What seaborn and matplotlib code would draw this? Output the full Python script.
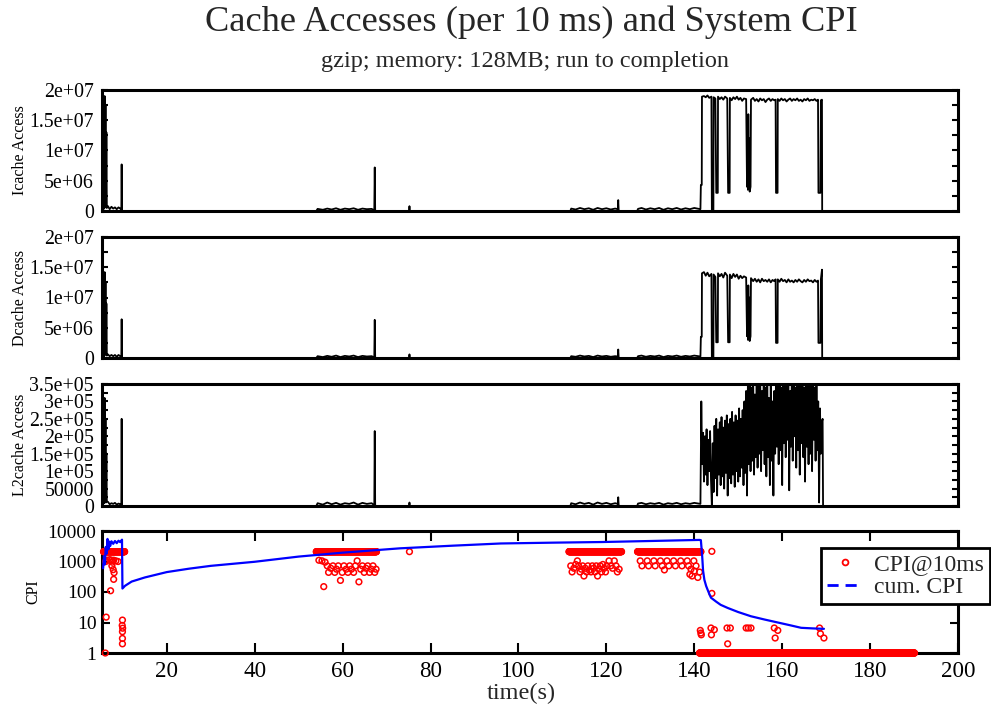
import numpy as np
import pandas as pd
import matplotlib
matplotlib.use("Agg")
import matplotlib.pyplot as plt
from matplotlib.lines import Line2D
from matplotlib.ticker import LogLocator, NullFormatter, MultipleLocator
import seaborn as sns

# ---------------------------------------------------------------- data
# Sample times (s) shared by the three cache counters before the burst phase
t_pre = [5.25, 5.35, 5.45, 5.55, 5.65, 5.75, 5.85, 5.95, 6.05, 6.15, 6.25, 6.35,
         6.6, 7.0, 7.4, 7.8, 8.2, 8.6, 9.0, 9.4, 9.65, 9.72, 9.80, 10.0,
         54.0, 54.3, 55.5, 56.5, 57.5, 58.5, 59.5, 60.5, 61.5, 62.5, 63.5, 64.5, 65.5, 66.6,
         67.2, 67.3, 67.4, 67.6, 75.1, 75.2, 75.3,
         111.8, 112.0, 113, 114, 115, 116, 117, 118, 119, 120, 121, 122, 122.6, 122.7, 122.8, 123.0,
         127.0, 127.2, 128, 129, 130, 131, 132, 133, 134, 135, 136, 137, 138, 139, 140, 141.0, 141.4]

# Icache / Dcache accesses in millions, L2 accesses in thousands
icache_pre = [19.5, 0.5, 19.3, 1.2, 18.8, 0.4, 19.0, 2.5, 17.5, 0.6, 13.0, 0.5,
              0.8, 0.3, 0.7, 0.4, 0.6, 0.3, 0.6, 0.4, 0.2, 7.7, 0.1, 0.0,
              0.0, 0.35, 0.2, 0.4, 0.25, 0.45, 0.2, 0.4, 0.3, 0.45, 0.2, 0.4, 0.3, 0.35,
              0.1, 7.2, 0.1, 0.0, 0.0, 0.8, 0.0,
              0.0, 0.4, 0.25, 0.5, 0.3, 0.45, 0.2, 0.5, 0.3, 0.45, 0.25, 0.4, 0.3, 1.8, 0.1, 0.0,
              0.0, 0.35, 0.5, 0.25, 0.45, 0.3, 0.5, 0.2, 0.45, 0.3, 0.5, 0.25, 0.45, 0.3, 0.5, 0.35, 0.3]
dcache_pre = [14.5, 0.4, 14.0, 1.0, 13.5, 0.3, 14.2, 2.0, 12.5, 0.5, 9.0, 0.4,
              0.6, 0.3, 0.5, 0.3, 0.5, 0.2, 0.5, 0.3, 0.2, 6.4, 0.1, 0.0,
              0.0, 0.3, 0.15, 0.35, 0.2, 0.4, 0.15, 0.35, 0.25, 0.4, 0.15, 0.35, 0.25, 0.3,
              0.1, 6.3, 0.1, 0.0, 0.0, 0.6, 0.0,
              0.0, 0.3, 0.2, 0.4, 0.25, 0.35, 0.15, 0.4, 0.25, 0.35, 0.2, 0.3, 0.25, 1.4, 0.1, 0.0,
              0.0, 0.3, 0.4, 0.2, 0.35, 0.25, 0.4, 0.15, 0.35, 0.25, 0.4, 0.2, 0.35, 0.25, 0.4, 0.3, 0.25]
l2_pre = [330, 10, 320, 15, 300, 8, 310, 20, 250, 10, 150, 12,
          12, 5, 8, 6, 9, 4, 7, 5, 3, 250, 2, 0,
          0, 8, 4, 10, 5, 9, 4, 8, 6, 10, 4, 9, 6, 8,
          2, 215, 2, 0, 0, 10, 0,
          0, 8, 5, 10, 6, 9, 4, 10, 6, 9, 5, 8, 6, 25, 2, 0,
          0, 7, 9, 5, 8, 6, 9, 4, 8, 6, 9, 5, 8, 6, 9, 7, 6]

# Burst phase (Icache / Dcache share these sample times)
t_burst = [141.5, 141.7, 141.75, 142.2, 142.6, 143.0, 143.4, 143.9,
           144.0, 144.35, 144.4, 144.8,
           145.0, 145.35, 145.4, 145.8, 146.2, 146.6, 147.0, 147.5,
           147.7, 148.05, 148.1, 148.5, 148.9, 149.3, 149.7, 150.1, 150.5, 150.9, 151.3, 151.8,
           152.0, 152.1, 152.2, 152.3, 152.4, 152.5, 152.6, 152.8,
           152.9, 153.4, 153.8, 154.2, 154.6, 155.0, 155.4, 155.8, 156.2, 156.6, 157.0, 157.4, 157.8, 158.2, 158.5,
           158.6, 158.95, 159.0, 159.4, 159.8, 160.2, 160.6, 161.0, 161.4, 161.8, 162.2, 162.6, 163.0,
           163.4, 163.8, 164.2, 164.6, 165.0, 165.4, 165.8, 166.2, 166.6, 167.0, 167.4, 167.8, 168.15,
           168.25, 168.7, 168.8, 169.05, 169.1, 190.0]
icache_burst = [4.3, 4.3, 18.9, 19.0, 18.8, 19.1, 18.7, 18.9,
                0.0, 0.0, 18.8, 18.6,
                3.0, 3.0, 18.9, 18.5, 18.8, 18.4, 18.9, 18.6,
                3.0, 3.0, 18.7, 18.3, 18.8, 18.5, 18.9, 18.4, 18.7, 18.2, 18.6, 18.5,
                4.0, 15.0, 3.5, 16.0, 4.6, 12.0, 3.2, 4.0,
                18.4, 18.7, 18.2, 18.5, 18.1, 18.6, 18.3, 18.5, 18.0, 18.4, 18.6, 18.2, 18.5, 18.3, 18.4,
                3.0, 3.0, 18.5, 18.2, 18.6, 18.3, 18.5, 18.1, 18.4, 18.6, 18.2, 18.5, 18.3,
                18.6, 18.2, 18.4, 18.1, 18.5, 18.3, 18.6, 18.2, 18.4, 18.3, 18.5, 18.2, 18.4,
                3.0, 3.0, 18.3, 18.4, 0.0, 0.0]
dcache_burst = [3.5, 3.5, 14.0, 14.2, 13.6, 14.1, 13.5, 13.9,
                0.0, 0.0, 13.8, 13.4,
                2.6, 2.6, 14.0, 13.5, 13.9, 13.3, 14.1, 13.6,
                2.6, 2.6, 13.8, 13.2, 13.9, 13.4, 13.8, 13.1, 13.6, 13.2, 13.5, 13.3,
                3.6, 11.0, 3.0, 12.0, 3.6, 10.0, 2.8, 3.6,
                13.2, 12.7, 13.1, 12.6, 13.0, 12.5, 13.1, 12.7, 12.9, 12.6, 13.0, 12.5, 12.9, 12.7, 13.0,
                2.5, 2.5, 13.0, 12.6, 13.1, 12.7, 12.9, 12.5, 13.0, 12.6, 12.8, 12.5, 12.9,
                12.6, 13.0, 12.7, 12.5, 12.9, 12.6, 13.0, 12.7, 12.8, 12.5, 12.9, 12.6, 12.8,
                2.5, 2.5, 13.0, 14.6, 0.0, 0.0]

# L2 accesses during the burst, one reading every 0.2 s from 141.6 s
l2_burst_start, l2_burst_step = 141.6, 0.2
l2_burst = [300, 120, 210, 70, 200, 90, 220, 60, 190, 100,
            215, 75, 0, 180, 40, 230, 80, 250, 30, 220,
            90, 240, 60, 255, 85, 225, 50, 245, 95, 260,
            30, 235, 80, 250, 65, 270, 90, 240, 55, 260,
            100, 245, 70, 280, 85, 250, 110, 275, 60, 300,
            95, 330, 30, 360, 120, 380, 100, 340, 130, 370,
            90, 320, 140, 390, 110, 350, 150, 380, 100, 330,
            160, 370, 120, 340, 85, 360, 140, 310, 60, 350,
            130, 300, 30, 330, 150, 380, 170, 350, 120, 390,
            160, 340, 60, 370, 180, 400, 140, 350, 190, 380,
            45, 330, 170, 390, 130, 360, 200, 340, 110, 380,
            160, 350, 90, 370, 180, 395, 140, 340, 70, 380,
            170, 360, 120, 390, 150, 350, 100, 370, 190, 340,
            130, 380, 160, 300, 10, 280, 150, 240, 250]
l2_tail_t = [169.3, 190.0]
l2_tail = [0, 0]

# CPI per 10 ms sample: dense plateaus, the idle tail, and scattered readings
cpi_band_spans = [(5.6, 10.4), (54.0, 67.7), (111.5, 123.5), (127.1, 141.5)]
cpi_band_level = 2100
cpi_idle_span = (141.2, 190.1)
cpi_idle_level = 1
cpi_pts_t = [6.0, 6.2, 7.2, 6.1, 6.4, 7.0, 7.4, 7.9, 8.4, 8.9, 7.5, 7.8, 8.0, 7.9, 7.6,
             9.9, 9.85, 9.95, 9.9, 9.9, 9.9,
             54.6, 55.3, 55.7, 56.0, 56.5, 56.8, 57.3, 57.8, 58.2, 58.6, 59.0, 59.5, 59.9, 60.3,
             60.8, 61.2, 61.6, 62.0, 62.5, 62.9, 63.3, 63.7, 64.1, 64.5, 64.9, 65.3, 65.7, 66.1,
             66.5, 66.9, 67.3, 67.6,
             75.2,
             111.9, 112.2, 112.6, 113.0, 113.4, 113.7, 114.0, 114.3, 114.6, 114.9, 115.2, 115.5,
             115.8, 116.1, 116.5, 116.8, 117.1, 117.4, 117.7, 118.0, 118.3, 118.6, 118.9, 119.2,
             119.5, 119.8, 120.1, 120.6, 121.0, 121.4, 121.8, 122.2, 122.5, 122.9,
             127.7, 129.3, 130.8, 132.3, 133.8, 135.3, 136.9, 138.4, 139.9,
             128.1, 129.6, 131.1, 132.7, 134.2, 135.7, 137.2, 138.7,
             133.2, 139.25, 139.0, 139.5, 140.0, 140.4, 140.8, 141.2,
             144.0, 144.0,
             141.37, 141.5, 141.6, 143.8, 143.9, 144.56, 147.45, 148.2, 147.6, 151.8, 152.3,
             152.9, 158.2, 159.0, 158.4, 168.5, 168.7, 169.5]
cpi_pts_v = [1, 15, 110, 1000, 1100, 1150, 1100, 1100, 1050, 1000, 720, 540, 430, 260, 950,
             12, 8, 6.5, 5, 3, 2,
             1100, 1050, 150, 950, 720, 440, 600, 720, 440, 560, 720, 240, 440, 720,
             560, 440, 720, 560, 440, 720, 1050, 215, 560, 720, 440, 600, 720, 440,
             560, 720, 440, 560,
             2100,
             720, 455, 600, 800, 1050, 720, 455, 560, 720, 335, 600, 455,
             720, 520, 455, 720, 600, 455, 720, 335, 560, 720, 455, 800,
             600, 455, 720, 1050, 720, 600, 1050, 720, 455, 560,
             1050, 1050, 1050, 1050, 1050, 1050, 1050, 1050, 1050,
             720, 720, 720, 720, 720, 720, 720, 720,
             530, 560, 380, 335, 485, 720, 300, 450,
             2150, 90,
             5.5, 4.5, 3.95, 6.6, 3.95, 5.8, 6.6, 6.6, 2.0, 6.6, 6.6,
             6.6, 6.6, 5.5, 3.1, 6.6, 4.3, 3.1]

# Cumulative CPI
cum_t = [5.5, 5.7, 5.9, 6.1, 6.3, 6.5, 6.7, 6.9, 7.1, 7.4, 7.8, 8.2, 8.6, 9.0, 9.4, 9.8, 9.9,
         10.5, 12, 15, 20, 25, 30, 40, 50, 60, 73, 85, 96, 108, 119, 130, 141.2,
         141.5, 141.8, 142.0, 142.3, 142.7, 143.3, 143.8, 145, 146, 147.6, 150, 152.9,
         156, 159, 162, 164.3, 167, 169.5]
cum_v = [600, 1500, 800, 3000, 1800, 5500, 2500, 4500, 3200, 4600, 3800, 4700, 4000, 4800, 4300, 5200, 130,
         160, 220, 300, 450, 580, 720, 980, 1450, 1950, 2700, 3300, 3900, 4150, 4350, 4700, 5100,
         5000, 1500, 500, 250, 157, 95, 65, 48, 38, 30, 22, 16,
         12.5, 10, 8, 6.7, 6.4, 6.2]

# Axis ticks and labels
acc_ticks = [0, 5e6, 1e7, 1.5e7, 2e7]
acc_labels = ["0", "5e+06", "1e+07", "1.5e+07", "2e+07"]
l2_ticks = [0, 5e4, 1e5, 1.5e5, 2e5, 2.5e5, 3e5, 3.5e5]
l2_labels = ["0", "50000", "1e+05", "1.5e+05", "2e+05", "2.5e+05", "3e+05", "3.5e+05"]
cpi_ticks = [1, 10, 100, 1000, 10000]
cpi_labels = ["1", "10", "100", "1000", "10000"]
time_ticks = [20, 40, 60, 80, 100, 120, 140, 160, 180, 200]

# ---------------------------------------------------------------- tables
icache = pd.DataFrame({"t": t_pre + t_burst,
                       "v": np.array(icache_pre + icache_burst) * 1e6})
dcache = pd.DataFrame({"t": t_pre + t_burst,
                       "v": np.array(dcache_pre + dcache_burst) * 1e6})
l2_t_burst = list(np.round(l2_burst_start + l2_burst_step * np.arange(len(l2_burst)), 2))
l2 = pd.DataFrame({"t": t_pre + l2_t_burst + l2_tail_t,
                   "v": np.array(l2_pre + l2_burst + l2_tail) * 1e3})

band_t, band_v = [], []
for a, b in cpi_band_spans:
    ts = np.arange(a, b, 0.05)
    band_t += list(ts)
    band_v += [cpi_band_level] * len(ts)
ts = np.arange(cpi_idle_span[0], cpi_idle_span[1], 0.05)
band_t += list(ts)
band_v += [cpi_idle_level] * len(ts)
cpi = pd.DataFrame({"t": band_t + cpi_pts_t, "v": band_v + cpi_pts_v})
cum = pd.DataFrame({"t": cum_t, "v": cum_v})

# ---------------------------------------------------------------- style
sns.set_theme(style="white")
plt.rcParams["font.family"] = ["Liberation Serif", "DejaVu Serif"]
plt.rcParams["axes.linewidth"] = 2.2
plt.rcParams["axes.edgecolor"] = "black"

W, H = 991, 708
fig = plt.figure(figsize=(W / 100, H / 100), dpi=100)
fig.patch.set_facecolor("white")


def frame(top, bottom, left=102, right=958):
    return [left / W, 1 - bottom / H, (right - left) / W, (bottom - top) / H]


ax1 = fig.add_axes(frame(90, 211))
ax2 = fig.add_axes(frame(237, 358), sharex=ax1)
ax3 = fig.add_axes(frame(384, 506), sharex=ax1)
ax4 = fig.add_axes(frame(531, 653), sharex=ax1)

panels = [(ax1, icache, acc_ticks, acc_labels, 2e7, 2.5e6, "Icache Access"),
          (ax2, dcache, acc_ticks, acc_labels, 2e7, 2.5e6, "Dcache Access"),
          (ax3, l2, l2_ticks, l2_labels, 3.5e5, 2.5e4, "L2cache Access")]

for ax, df, ticks, labels, ymax, minor, name in panels:
    sns.lineplot(data=df, x="t", y="v", ax=ax, color="black", linewidth=1.3,
                 estimator=None, sort=False)
    ax.set_ylim(0, ymax)
    ax.set_yticks(ticks, labels)
    ax.yaxis.set_minor_locator(MultipleLocator(minor))
    ax.tick_params(axis="y", which="both", direction="in", left=True, right=True,
                   length=4, width=1.5, labelsize=14.3, pad=6, colors="black")
    ax.tick_params(axis="x", which="both", length=0, labelbottom=False)
    ax.set_xlabel("")
    ax.set_ylabel(name, fontsize=11.5, color="black")
    ax.yaxis.set_label_coords(-0.086, 0.5)
    for s in ax.spines.values():
        s.set_linewidth(2.2)
        s.set_zorder(2.5)

# CPI panel
sns.scatterplot(data=cpi, x="t", y="v", ax=ax4, color="red", marker="o", s=17,
                linewidth=1.1, legend=False, zorder=3)
pts = ax4.collections[-1]
pts.set_facecolor("none")
pts.set_edgecolor("red")
pts.set_clip_on(False)
sns.lineplot(data=cum, x="t", y="v", ax=ax4, color="#0000ff", linewidth=1.6,
             estimator=None, sort=False, zorder=4)

ax4.set_yscale("log")
ax4.set_ylim(1, 10000)
ax4.set_xlim(5.25, 200)
ax4.set_yticks(cpi_ticks, cpi_labels)
ax4.yaxis.set_minor_locator(LogLocator(base=10, subs=np.arange(2, 10)))
ax4.yaxis.set_minor_formatter(NullFormatter())
ax4.set_xticks(time_ticks, [str(v) for v in time_ticks])
ax4.tick_params(axis="x", which="major", direction="in", bottom=True, top=True,
                length=7, width=1.5, labelsize=16.6, pad=5.5, colors="black")
ax4.tick_params(axis="y", which="major", direction="in", left=True, right=True,
                length=6, width=1.5, labelsize=14, pad=4, colors="black")
ax4.tick_params(axis="y", which="minor", direction="in", left=True, right=True,
                length=3, width=1.2)
ax4.set_xlabel("")
ax4.set_ylabel("CPI", fontsize=11.5, color="black")
ax4.yaxis.set_label_coords(-0.0713, 0.5)
for s in ax4.spines.values():
    s.set_linewidth(2.2)

handles = [Line2D([], [], linestyle="none", marker="o", markersize=4.2,
                  markerfacecolor="none", markeredgecolor="red", markeredgewidth=1.3),
           Line2D([], [], color="#0000ff", linewidth=2, linestyle=(0, (4, 2.5)))]
leg = fig.legend(handles, ["CPI@10ms", "cum. CPI"], loc="upper right",
                 bbox_to_anchor=(990 / W, 1 - 548 / H), fontsize=17,
                 frameon=True, fancybox=False, framealpha=1, edgecolor="black",
                 borderpad=0.25, labelspacing=0.05, handlelength=1.5,
                 handletextpad=0.5, borderaxespad=0)
leg.get_frame().set_linewidth(2)
leg.set_zorder(10)

fig.text(0.536, 1 - 22 / H, "Cache Accesses (per 10 ms) and System CPI",
         ha="center", va="center", fontsize=26.2)
fig.text(0.530, 1 - 61 / H, "gzip; memory: 128MB; run to completion",
         ha="center", va="center", fontsize=17.5)
fig.text(0.526, 1 - 693 / H, "time(s)", ha="center", va="center", fontsize=17.5)

fig.savefig("out.png", dpi=100, facecolor="white")
